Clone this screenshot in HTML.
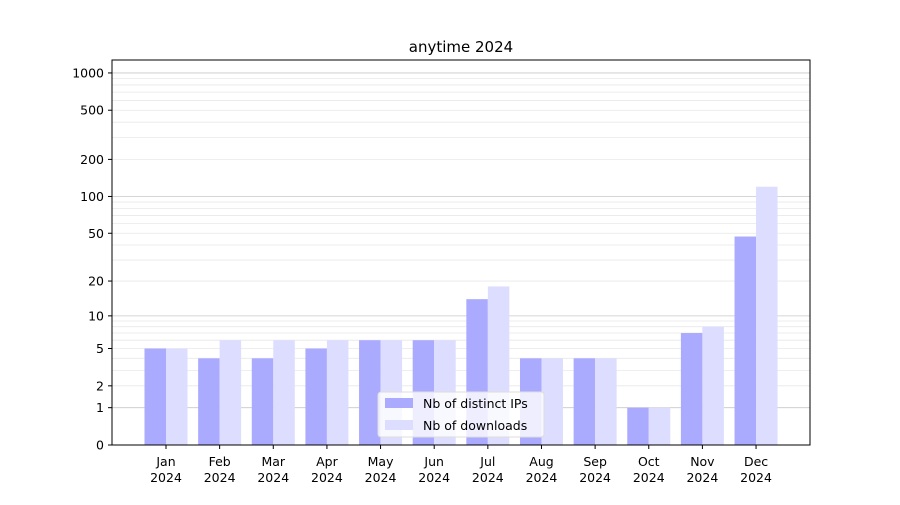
<!DOCTYPE html>
<html><head><meta charset="utf-8"><style>
body{margin:0;background:#fff}
svg{font-family:"DejaVu Sans","Liberation Sans",sans-serif}
</style></head><body>
<svg id="s" width="900" height="500" xmlns="http://www.w3.org/2000/svg"></svg>
<script>
const s=document.getElementById('s');
let h='<rect width="900" height="500" fill="#fff"/>';
const Y=v=>445-124*Math.log10(1+v);
for(const d of [1,10,100]){for(let k=2;k<=9;k++){const y=Y(k*d);h+=`<line x1="112" x2="810" y1="${y}" y2="${y}" stroke="#e8e8e8" stroke-width="0.8"/>`;}}
for(const v of [1,10,100,1000]){const y=Y(v);h+=`<line x1="112" x2="810" y1="${y}" y2="${y}" stroke="#c8c8c8" stroke-width="0.8"/>`;}
const ip=[5,4,4,5,6,6,14,4,4,1,7,47],dl=[5,6,6,6,6,6,18,4,4,1,8,120];
const m=['Jan','Feb','Mar','Apr','May','Jun','Jul','Aug','Sep','Oct','Nov','Dec'];
for(let i=0;i<12;i++){const c=166+i*53.64;
h+=`<rect x="${c-21.5}" y="${Y(ip[i])}" width="21.5" height="${445-Y(ip[i])}" fill="#aaaaff"/>`;
h+=`<rect x="${c}" y="${Y(dl[i])}" width="21.5" height="${445-Y(dl[i])}" fill="#ddddff"/>`;
h+=`<line x1="${c}" x2="${c}" y1="445" y2="449" stroke="#000"/>`;
h+=`<text x="${c}" y="466" font-size="12.5" text-anchor="middle">${m[i]}</text><text x="${c}" y="482" font-size="12.5" text-anchor="middle">2024</text>`;}
for(const v of [0,1,2,5,10,20,50,100,200,500,1000]){const y=Y(v);
h+=`<line x1="108" x2="112" y1="${y}" y2="${y}" stroke="#000"/><text x="104" y="${y+4.5}" font-size="12.5" text-anchor="end">${v}</text>`;}
h+=`<rect x="112" y="60" width="698" height="385" fill="none" stroke="#000" stroke-width="1"/>`;
h+=`<text x="461" y="52" font-size="15" text-anchor="middle">anytime 2024</text>`;
h+=`<rect x="378" y="392" width="166" height="45" rx="3" fill="#fff" fill-opacity="0.8" stroke="#ddd"/>`;
h+=`<rect x="385" y="398" width="28" height="10" fill="#aaaaff"/><text x="423" y="408" font-size="12.5">Nb of distinct IPs</text>`;
h+=`<rect x="385" y="420" width="28" height="10" fill="#ddddff"/><text x="423" y="430" font-size="12.5">Nb of downloads</text>`;
s.innerHTML=h;
</script>
</body></html>
